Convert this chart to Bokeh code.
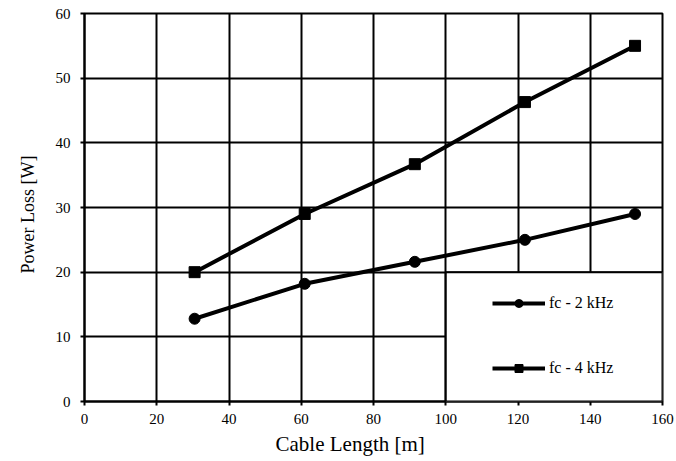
from bokeh.plotting import figure
from bokeh.models import Legend, LegendItem, BoxAnnotation, Range1d, FixedTicker, Title
from bokeh.embed import file_html
from bokeh.resources import INLINE

cable_length = [30.48, 60.96, 91.44, 121.92, 152.4]
loss_2khz = [12.8, 18.2, 21.6, 25.0, 29.0]
loss_4khz = [20.0, 29.0, 36.7, 46.3, 55.0]
x_ticks = [0, 20, 40, 60, 80, 100, 120, 140, 160]
y_ticks = [0, 10, 20, 30, 40, 50, 60]
series_names = ["fc - 2 kHz", "fc - 4 kHz"]
x_label = "Cable Length [m]"
y_label = "Power Loss [W]"

FONT = "Liberation Serif"

p = figure(width=676, height=461, output_backend="svg", toolbar_location=None,
           x_range=Range1d(0, 160), y_range=Range1d(0, 60))
p.min_border_left = 84
p.min_border_right = 14
p.min_border_top = 13
p.min_border_bottom = 60
p.background_fill_color = "white"
p.border_fill_color = "white"
p.outline_line_color = "black"
p.outline_line_width = 2

for ax in (p.xaxis[0], p.yaxis[0]):
    ax.axis_line_color = "black"
    ax.axis_line_width = 2
    ax.major_tick_line_width = 2
    ax.major_tick_in = 0
    ax.major_tick_out = 4
    ax.minor_tick_line_color = None
    ax.major_label_text_font = FONT
    ax.major_label_text_font_size = "15px"
    ax.major_label_text_color = "black"

p.xaxis.ticker = FixedTicker(ticks=x_ticks)
p.yaxis.ticker = FixedTicker(ticks=y_ticks)
p.xaxis.major_label_standoff = 8
p.yaxis.major_label_standoff = 10

p.xgrid.ticker = FixedTicker(ticks=x_ticks)
p.ygrid.ticker = FixedTicker(ticks=y_ticks)
for g in (p.xgrid[0], p.ygrid[0]):
    g.grid_line_color = "black"
    g.grid_line_width = 2

xt = Title(text=x_label, align="left", offset=191, standoff=6,
           text_font=FONT, text_font_size="21px", text_font_style="normal", text_color="black")
p.add_layout(xt, "below")
yt = Title(text=y_label, align="left", offset=128, standoff=30,
           text_font=FONT, text_font_size="18px", text_font_style="normal", text_color="black")
p.add_layout(yt, "left")

l1 = p.line(cable_length, loss_2khz, line_color="black", line_width=4)
m1 = p.scatter(cable_length, loss_2khz, marker="circle", size=11, fill_color="black", line_color="black")
l2 = p.line(cable_length, loss_4khz, line_color="black", line_width=4)
m2 = p.scatter(cable_length, loss_4khz, marker="square", size=11, fill_color="black", line_color="black")

box = BoxAnnotation(left=100, right=160, bottom=0, top=20, fill_color="white", fill_alpha=1.0,
                    line_color="black", line_alpha=1.0, line_width=2)
p.add_layout(box)

legend = Legend(items=[LegendItem(label=series_names[0], renderers=[l1, m1]),
                       LegendItem(label=series_names[1], renderers=[l2, m2])],
                location=(408, 23), background_fill_alpha=0, border_line_color=None,
                padding=0, margin=0, spacing=45, glyph_width=53, glyph_height=20,
                label_height=20, label_standoff=4,
                label_text_font=FONT, label_text_font_size="16px", label_text_color="black")
p.add_layout(legend)

open("out.html", "w").write(file_html(p, INLINE))
